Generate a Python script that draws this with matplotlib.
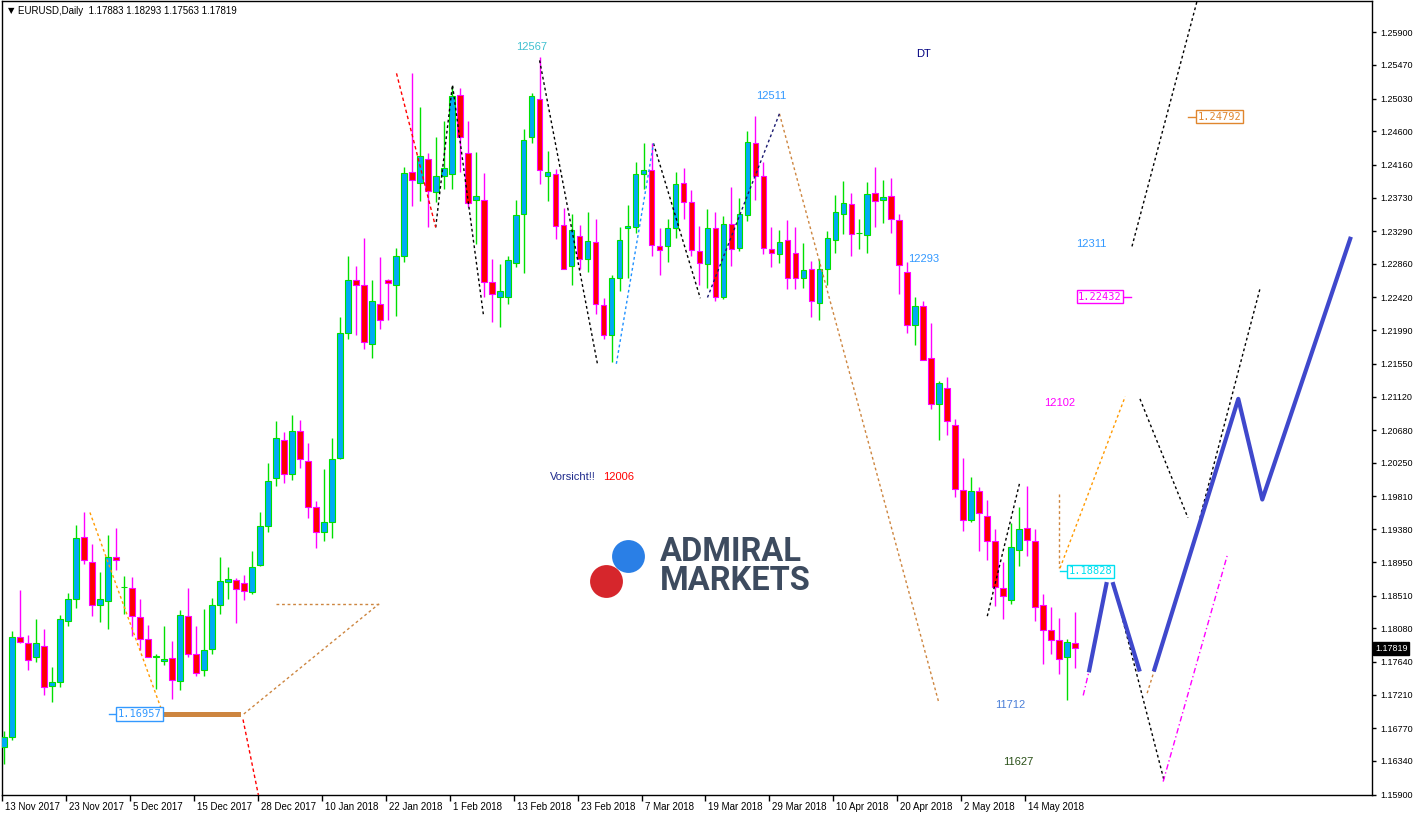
import numpy as np
import matplotlib.pyplot as plt
from matplotlib import transforms

# daily EURUSD candles, 13 Nov 2017 .. 22 May 2018 (bar index 0..134)
opens = [1.1653, 1.1666, 1.1796, 1.1789, 1.1770, 1.1785, 1.1732, 1.1738, 1.1817, 1.1846,
         1.1928, 1.1895, 1.1839, 1.1844, 1.1902, 1.1862, 1.1861, 1.1823, 1.1794, 1.1771,
         1.1765, 1.1769, 1.1739, 1.1824, 1.1775, 1.1753, 1.1781, 1.1839, 1.1869, 1.1872,
         1.1868, 1.1856, 1.1891, 1.1942, 1.2005, 1.2055, 1.2011, 1.2067, 1.2027, 1.1967,
         1.1935, 1.1947, 1.2032, 1.2196, 1.2265, 1.2258, 1.2181, 1.2234, 1.2265, 1.2259,
         1.2297, 1.2407, 1.2392, 1.2423, 1.2380, 1.2401, 1.2404, 1.2508, 1.2432, 1.2370,
         1.2370, 1.2262, 1.2242, 1.2242, 1.2287, 1.2351, 1.2452, 1.2503, 1.2401, 1.2404,
         1.2337, 1.2283, 1.2322, 1.2292, 1.2315, 1.2232, 1.2193, 1.2267, 1.2333, 1.2334,
         1.2404, 1.2409, 1.2309, 1.2309, 1.2333, 1.2392, 1.2367, 1.2303, 1.2286, 1.2333,
         1.2242, 1.2338, 1.2307, 1.2350, 1.2445, 1.2402, 1.2305, 1.2299, 1.2318, 1.2301,
         1.2268, 1.2279, 1.2235, 1.2280, 1.2318, 1.2351, 1.2365, 1.2326, 1.2324, 1.2379,
         1.2370, 1.2375, 1.2343, 1.2276, 1.2206, 1.2231, 1.2162, 1.2102, 1.2123, 1.2075,
         1.1990, 1.1950, 1.1988, 1.1956, 1.1923, 1.1861, 1.1845, 1.1911, 1.1939, 1.1923,
         1.1839, 1.1806, 1.1793, 1.1770, 1.17883]
highs = [1.1674, 1.1804, 1.1858, 1.1799, 1.1820, 1.1807, 1.1757, 1.1826, 1.1854, 1.1943,
         1.1960, 1.1919, 1.1882, 1.1931, 1.1939, 1.1877, 1.1876, 1.1847, 1.1813, 1.1775,
         1.1811, 1.1791, 1.1832, 1.1861, 1.1811, 1.1834, 1.1848, 1.1901, 1.1889, 1.1874,
         1.1878, 1.1910, 1.1960, 1.2025, 1.2080, 1.2065, 1.2088, 1.2081, 1.2051, 1.1975,
         1.2017, 1.2058, 1.2217, 1.2296, 1.2283, 1.2320, 1.2265, 1.2295, 1.2266, 1.2307,
         1.2413, 1.2537, 1.2492, 1.2432, 1.2453, 1.2474, 1.2520, 1.2517, 1.2474, 1.2433,
         1.2405, 1.2293, 1.2286, 1.2296, 1.2370, 1.2463, 1.2510, 1.2557, 1.2434, 1.2411,
         1.2359, 1.2351, 1.2337, 1.2354, 1.2345, 1.2241, 1.2272, 1.2334, 1.2363, 1.2420,
         1.2445, 1.2445, 1.2333, 1.2345, 1.2407, 1.2412, 1.2383, 1.2336, 1.2358, 1.2354,
         1.2349, 1.2387, 1.2373, 1.2461, 1.2480, 1.2420, 1.2334, 1.2330, 1.2344, 1.2334,
         1.2313, 1.2290, 1.2292, 1.2329, 1.2376, 1.2395, 1.2379, 1.2345, 1.2394, 1.2413,
         1.2396, 1.2399, 1.2351, 1.2288, 1.2243, 1.2238, 1.2209, 1.2133, 1.2138, 1.2083,
         1.2031, 1.2007, 1.1994, 1.1977, 1.1938, 1.1895, 1.1946, 1.1967, 1.1995, 1.1938,
         1.1853, 1.1836, 1.1822, 1.1794, 1.18293]
lows = [1.1630, 1.1661, 1.1789, 1.1754, 1.1764, 1.1720, 1.1711, 1.1731, 1.1811, 1.1835,
        1.1893, 1.1824, 1.1816, 1.1807, 1.1885, 1.1827, 1.1798, 1.1779, 1.1771, 1.1729,
        1.1760, 1.1715, 1.1727, 1.1770, 1.1746, 1.1745, 1.1774, 1.1827, 1.1847, 1.1815,
        1.1845, 1.1853, 1.1890, 1.1935, 1.1995, 1.1998, 1.2002, 1.2018, 1.1953, 1.1913,
        1.1922, 1.1927, 1.2030, 1.2187, 1.2193, 1.2175, 1.2163, 1.2201, 1.2212, 1.2218,
        1.2289, 1.2362, 1.2368, 1.2334, 1.2367, 1.2384, 1.2384, 1.2407, 1.2361, 1.2312,
        1.2243, 1.2210, 1.2203, 1.2233, 1.2282, 1.2274, 1.2445, 1.2391, 1.2369, 1.2319,
        1.2280, 1.2259, 1.2279, 1.2275, 1.2220, 1.2187, 1.2157, 1.2250, 1.2267, 1.2326,
        1.2384, 1.2296, 1.2272, 1.2288, 1.2320, 1.2345, 1.2297, 1.2259, 1.2254, 1.2237,
        1.2240, 1.2283, 1.2303, 1.2342, 1.2370, 1.2299, 1.2282, 1.2287, 1.2253, 1.2253,
        1.2255, 1.2216, 1.2213, 1.2258, 1.2300, 1.2325, 1.2297, 1.2305, 1.2301, 1.2334,
        1.2340, 1.2326, 1.2247, 1.2195, 1.2180, 1.2160, 1.2096, 1.2055, 1.2061, 1.1980,
        1.1936, 1.1947, 1.1910, 1.1897, 1.1837, 1.1820, 1.1840, 1.1890, 1.1903, 1.1818,
        1.1761, 1.1774, 1.1748, 1.1714, 1.17563]
closes = [1.1666, 1.1797, 1.1790, 1.1766, 1.1789, 1.1731, 1.1737, 1.1820, 1.1846, 1.1927,
          1.1897, 1.1839, 1.1847, 1.1902, 1.1897, 1.1862, 1.1824, 1.1794, 1.1771, 1.1772,
          1.1768, 1.1740, 1.1826, 1.1775, 1.1749, 1.1779, 1.1839, 1.1870, 1.1873, 1.1860,
          1.1857, 1.1888, 1.1942, 1.2001, 1.2058, 1.2011, 1.2067, 1.2030, 1.1967, 1.1935,
          1.1947, 1.2030, 1.2196, 1.2265, 1.2259, 1.2183, 1.2238, 1.2213, 1.2261, 1.2297,
          1.2405, 1.2396, 1.2427, 1.2382, 1.2401, 1.2412, 1.2506, 1.2453, 1.2366, 1.2375,
          1.2262, 1.2246, 1.2250, 1.2291, 1.2350, 1.2449, 1.2506, 1.2409, 1.2407, 1.2336,
          1.2280, 1.2330, 1.2293, 1.2316, 1.2233, 1.2193, 1.2267, 1.2317, 1.2336, 1.2404,
          1.2409, 1.2311, 1.2304, 1.2333, 1.2391, 1.2367, 1.2304, 1.2287, 1.2333, 1.2242,
          1.2338, 1.2305, 1.2351, 1.2446, 1.2402, 1.2307, 1.2300, 1.2315, 1.2268, 1.2268,
          1.2278, 1.2238, 1.2280, 1.2320, 1.2354, 1.2366, 1.2325, 1.2327, 1.2378, 1.2369,
          1.2374, 1.2345, 1.2285, 1.2206, 1.2231, 1.2160, 1.2102, 1.2130, 1.2080, 1.1991,
          1.1950, 1.1988, 1.1959, 1.1922, 1.1862, 1.1850, 1.1915, 1.1938, 1.1924, 1.1836,
          1.1806, 1.1793, 1.1768, 1.1790, 1.17819]

date_bars = list(range(0, 129, 8))
date_labels = ['13 Nov 2017', '23 Nov 2017', '5 Dec 2017', '15 Dec 2017', '28 Dec 2017',
               '10 Jan 2018', '22 Jan 2018', '1 Feb 2018', '13 Feb 2018', '23 Feb 2018',
               '7 Mar 2018', '19 Mar 2018', '29 Mar 2018', '10 Apr 2018', '20 Apr 2018',
               '2 May 2018', '14 May 2018']
price_labels = ['1.25900', '1.25470', '1.25030', '1.24600', '1.24160', '1.23730',
                '1.23290', '1.22860', '1.22420', '1.21990', '1.21550', '1.21120',
                '1.20680', '1.20250', '1.19810', '1.19380', '1.18950', '1.18510',
                '1.18080', '1.17640', '1.17210', '1.16770', '1.16340', '1.15900']

# hand drawn analysis objects (bar index, price)
black_dotted = [[(54, 1.2334), (56.1, 1.2521), (60, 1.2217)],
                [(67, 1.2553), (74.25, 1.2154)],
                [(81.25, 1.2444), (87.1, 1.2241)],
                [(123, 1.1824), (127.1, 1.2001)],
                [(141.1, 1.2309), (149.6, 1.2645)],
                [(142.1, 1.2109), (148.1, 1.1953)],
                [(149.6, 1.1953), (157.1, 1.2253)],
                [(138.75, 1.1868), (145.1, 1.1609)]]
peru_dotted = [[(30, 1.16957), (46.9, 1.1840)],
               [(34, 1.1840), (46.9, 1.1840)],
               [(97, 1.2483), (116.9, 1.1712)],
               [(132, 1.1984), (132, 1.1887)],
               [(143, 1.1723), (143.9, 1.1753)]]
orange_dotted = [[(10.75, 1.1960), (19.9, 1.16957)],
                 [(132.1, 1.1887), (140.25, 1.2112)]]
red_dotted = [[(49.1, 1.2536), (54, 1.2334)],
              [(29.9, 1.16884), (32.1, 1.1575)]]
blue_dotted = [[(76.6, 1.2155), (81.25, 1.2444)]]
navy_dotted = [[(88, 1.2242), (97, 1.2483)]]
magenta_dashdot = [[(135, 1.1720), (135.75, 1.1753)],
                   [(145, 1.1607), (153, 1.1903)]]
zigzag = [[(135.75, 1.1753), (137.9, 1.1866)],
          [(138.75, 1.1866), (142, 1.1754)],
          [(143.9, 1.1754), (154.4, 1.2109), (157.4, 1.1977), (168.4, 1.2319)]]
support_bars = (19.9, 29.25)
support_price = 1.16957

# price labels with boxes: (text, bar, price, colour, line from, line to)
boxed = [('1.16957', 17.0, 1.16957, '#3399FF', 13.1, 14.4),
         ('1.18828', 135.9, 1.18828, '#00E0F0', 132.1, 133.4),
         ('1.22432', 137.1, 1.22432, '#FF00FF', 139.8, 141.0),
         ('1.24792', 152.1, 1.24792, '#E0862E', 148.1, 149.5)]
notes = [('12567', 66, 1.2570, '#40C0D0'),
         ('DT', 115, 1.2562, '#000080'),
         ('12511', 96, 1.2506, '#3399FF'),
         ('12293', 115, 1.2292, '#3399FF'),
         ('12311', 136, 1.2312, '#3399FF'),
         ('12102', 132, 1.2104, '#FF00FF'),
         ('Vorsicht!!', 71.1, 1.2006, '#1E2A8C'),
         ('12006', 76.9, 1.2006, '#FF0000'),
         ('11712', 125.9, 1.1708, '#4A7FD8'),
         ('11627', 126.9, 1.1633, '#2A5018')]

plt.rcParams['font.family'] = ['Liberation Sans', 'DejaVu Sans']
fig = plt.figure(figsize=(14.14, 8.15), dpi=100)
ax = fig.add_axes([2 / 1414, 20 / 815, 1370 / 1414, 794 / 815])
ax.set_xlim(-0.125, 171.125)
ax.set_ylim(1.15894, 1.26309)

x = np.arange(len(opens))
o = np.array(opens)
c = np.array(closes)
bull = c >= o
ax.vlines(x[bull], np.array(lows)[bull], np.array(highs)[bull], color='#00E000', lw=1, zorder=2)
ax.vlines(x[~bull], np.array(lows)[~bull], np.array(highs)[~bull], color='#FF00FF', lw=1, zorder=2)
ax.bar(x[bull], (c - o)[bull], bottom=o[bull], width=0.72, color='#00AAF5',
       edgecolor='#00E000', linewidth=0.8, zorder=3)
ax.bar(x[~bull], (o - c)[~bull], bottom=c[~bull], width=0.72, color='#FF0000',
       edgecolor='#FF00FF', linewidth=0.8, zorder=3)


def draw(groups, color, ls, lw=1.0):
    for g in groups:
        xs, ys = zip(*g)
        ax.plot(xs, ys, color=color, ls=ls, lw=lw, zorder=4)


draw(black_dotted, 'black', (0, (2, 2)))
draw(peru_dotted, '#CD853F', (0, (2, 2)))
draw(orange_dotted, '#FF9A00', (0, (2, 2)))
draw(red_dotted, '#FF0000', (0, (2.5, 2)))
draw(blue_dotted, '#1E90FF', (0, (2, 2)))
draw(navy_dotted, '#191970', (0, (2, 2)))
draw(magenta_dashdot, '#FF00FF', (0, (4, 2, 1, 2)))
draw(zigzag, '#3F48CC', '-', 3.0)
ax.plot(support_bars, [support_price] * 2, color='#CD853F', lw=3.6, zorder=4)

for txt, bx, py, col, l0, l1 in boxed:
    ax.plot([l0, l1], [py, py], color=col, lw=1, zorder=5)
    ax.text(bx, py, txt, color=col, fontsize=7.5, family='DejaVu Sans Mono',
            ha='center', va='center', zorder=6,
            bbox=dict(boxstyle='square,pad=0.15', fc='white', ec=col, lw=1))

for txt, bx, py, col in notes:
    ax.text(bx, py, txt, color=col, fontsize=8, ha='center', va='center', zorder=6)

# watermark
ax.scatter([78.1], [1.1903], s=560, color='#2A7FE6', zorder=1, linewidths=0)
ax.scatter([75.25], [1.1870], s=560, color='#D6262C', zorder=1, linewidths=0)
fig.text(660 / 1414, 1 - 552 / 815, 'ADMIRAL', fontsize=23.5, family='Roboto',
         weight='bold', color='#3D4B5F', va='center', ha='left')
fig.text(660 / 1414, 1 - 581 / 815, 'MARKETS', fontsize=23.5, family='Roboto',
         weight='bold', color='#3D4B5F', va='center', ha='left')

# axes
ax.yaxis.tick_right()
ax.set_yticks([float(p) for p in price_labels])
ax.set_yticklabels(price_labels, fontsize=6.5)
ax.tick_params(axis='y', length=3, width=1, pad=3, direction='out')
ax.set_xticks([b - 0.25 for b in date_bars])
ax.set_xticklabels(date_labels, fontsize=7)
ax.tick_params(axis='x', length=4, width=1, pad=1, direction='out')
shift = transforms.ScaledTranslation(3 / 100, 0, fig.dpi_scale_trans)
for lab in ax.get_xticklabels():
    lab.set_horizontalalignment('left')
    lab.set_transform(lab.get_transform() + shift)
for s in ax.spines.values():
    s.set_color('black')
    s.set_linewidth(1)

# last price marker
ax.text(1.0 + 3 / 1370, closes[-1], '%.5f' % closes[-1], color='white', fontsize=6.5,
        ha='left', va='center', transform=transforms.blended_transform_factory(ax.transAxes, ax.transData),
        bbox=dict(boxstyle='square,pad=0.2', fc='black', ec='black'), clip_on=False)

fig.text(8 / 1414, 1 - 11 / 815, '\u25BC', fontsize=6, family='DejaVu Sans', va='center')
fig.text(18 / 1414, 1 - 11 / 815, 'EURUSD,Daily  %.5f %.5f %.5f %.5f'
         % (opens[-1], highs[-1], lows[-1], closes[-1]), fontsize=7, va='center')

fig.savefig('out.png', dpi=100)
